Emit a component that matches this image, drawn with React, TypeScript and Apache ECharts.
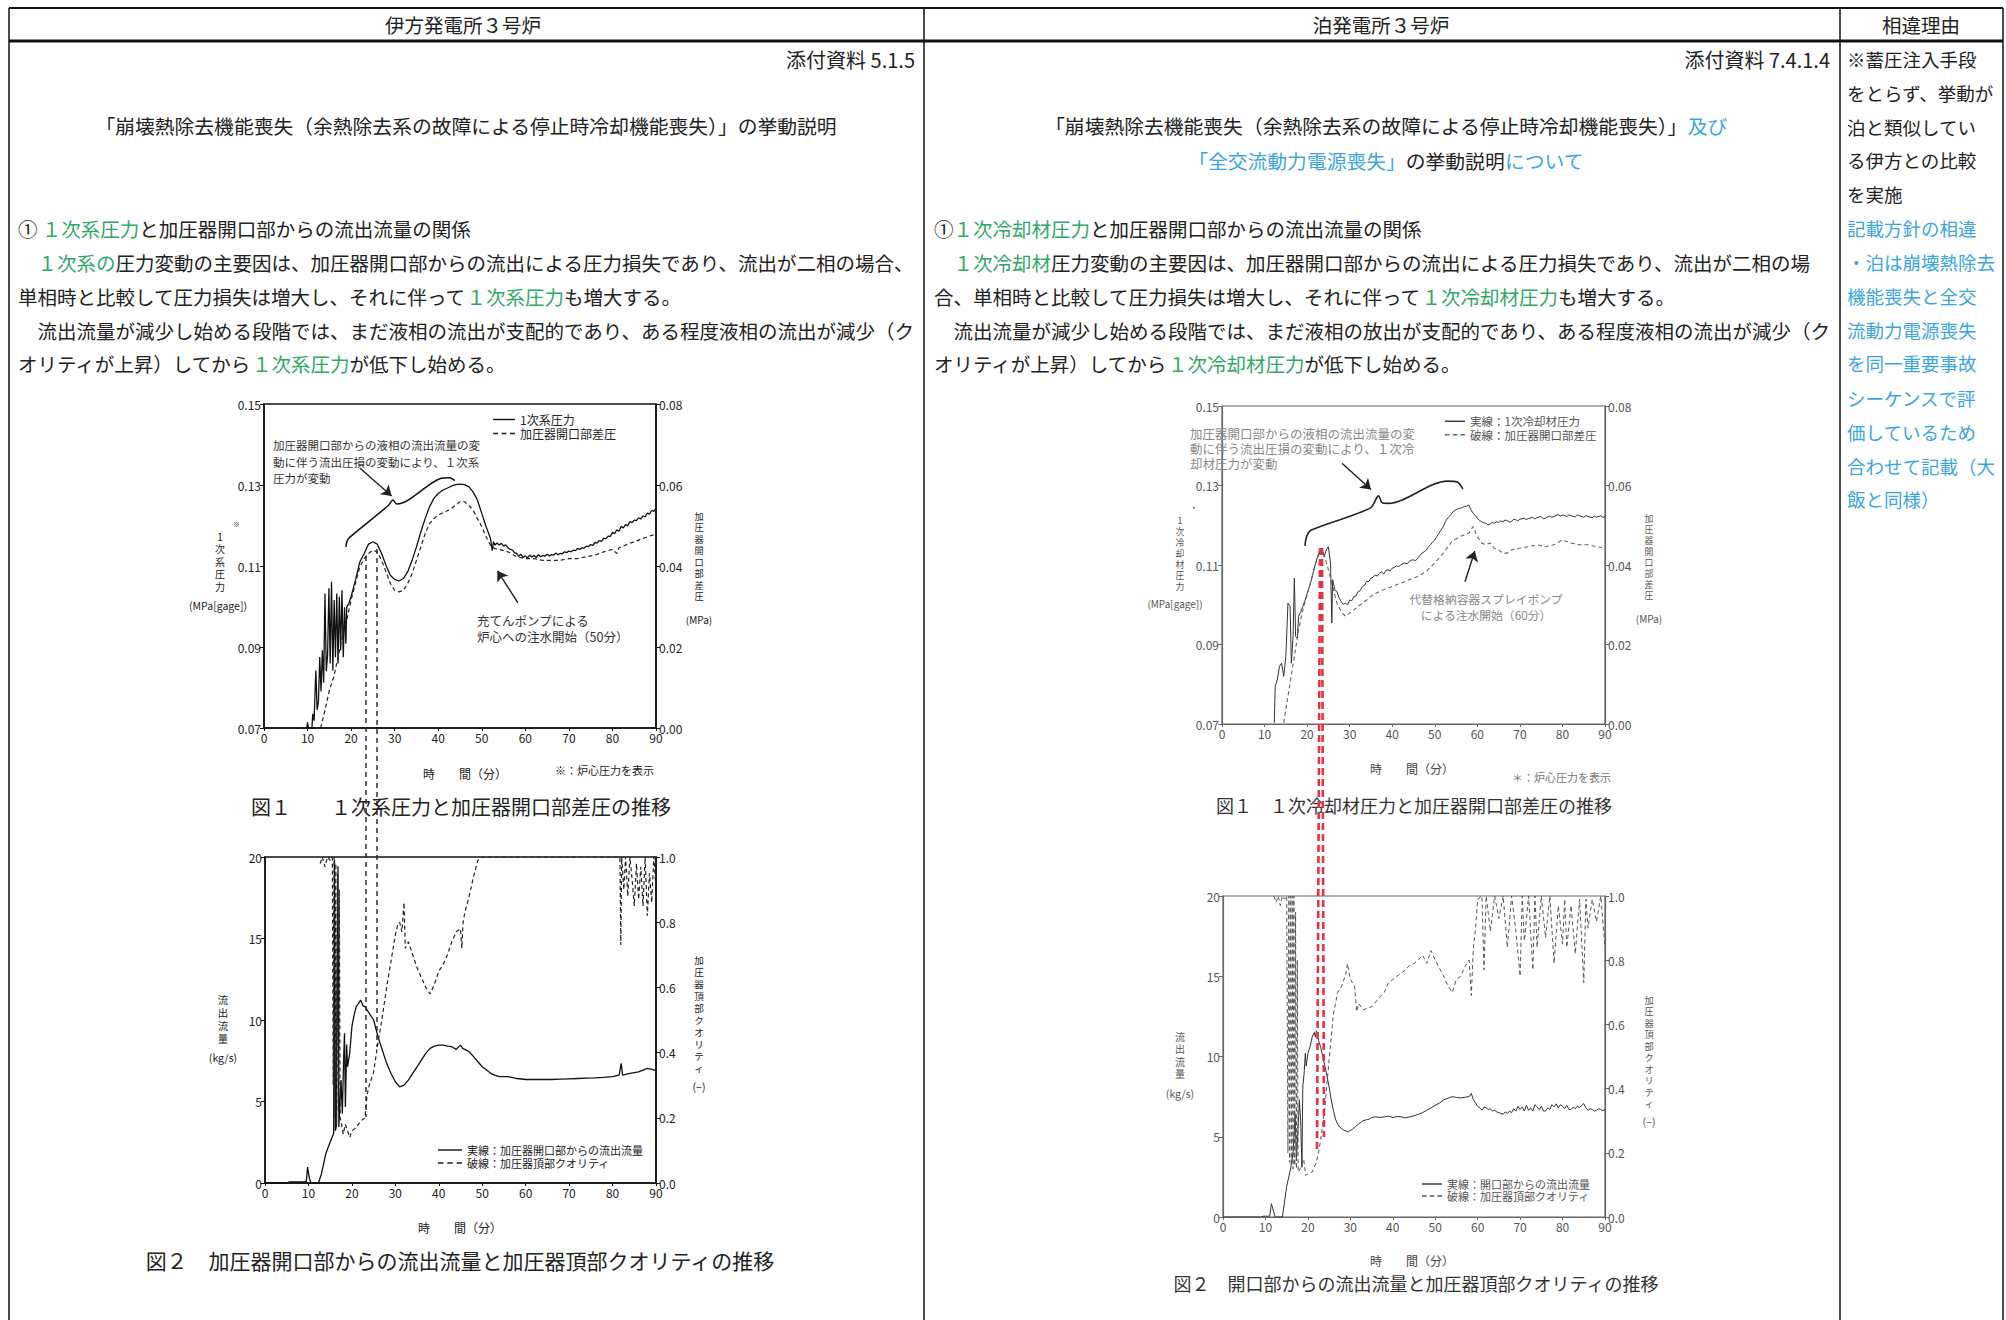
import React, { useEffect, useRef } from "react";
import * as echarts from "echarts";

const FONT = '"Noto Sans CJK JP", "Noto Sans", sans-serif';
const GREEN = "#2fa867";
const BLUE = "#3aa6de";
const INK = "#222";
const GREY = "#555";
const RED = "#e5333f";

// ---------- axis ticks ----------
const timeTicks = { min: 0, max: 90, interval: 10 };
const PRESSURE_BASE = 0.07; // bottom of the primary pressure axis (MPa[gage])
const pressureSpan = { max: 0.08, interval: 0.02 }; // 0.07 .. 0.15
const diffSpan = { max: 0.08, interval: 0.02 };
const flowSpan = { max: 20, interval: 5 };
const qualitySpan = { max: 1.0, interval: 0.2 };

// ---------- Ikata Fig.1 : primary pressure (MPa) ----------
const ikataPressure: number[][] = [
  [9.8,0.0700],[10.0,0.0714],[10.2,0.0700],[11.0,0.0700],[11.2,0.0735],[11.5,0.0718],[11.9,0.0842],[12.2,0.0745],[12.5,0.0765],[12.8,0.0875],[13.1,0.0790],[13.4,0.0892],[13.7,0.0812],[14.0,0.1032],[14.3,0.0840],[14.6,0.0880],[14.9,0.1045],[15.2,0.0859],[15.5,0.1061],[15.8,0.0842],[16.1,0.1016],[16.4,0.0875],[16.7,0.1032],[17.0,0.0859],[17.3,0.1024],[17.6,0.0892],[17.9,0.1040],[18.2,0.0875],[18.5,0.0998],[18.8,0.0908],[19.0,0.0999],[19.5,0.1008],[20,0.1024],[21,0.1065],[22,0.1110],[23,0.1131],[24,0.1154],[25,0.1160],[26,0.1154],[27,0.1131],[28,0.1102],[29,0.1077],[30,0.1067],[31,0.1063],[32,0.1069],[33,0.1086],[34,0.1114],[35,0.1147],[36,0.1184],[37,0.1217],[38,0.1246],[39,0.1267],[40,0.1279],[41,0.1287],[42,0.1292],[43,0.1297],[44,0.1301],[45,0.1302],[46,0.1301],[47,0.1296],[48,0.1283],[49,0.1263],[50,0.1230],[51,0.1197],[52,0.1168],[52.4,0.1138],[52.7,0.1160],[53,0.1152],[53.5,0.1157],[54,0.1152],[54.5,0.1156],[55,0.1149],[55.5,0.1152],[56,0.1145],[56.5,0.1141],[57,0.1140],[57.5,0.1133],[58,0.1131],[58.5,0.1124],[59,0.1129],[59.5,0.1121],[60,0.1125],[60.5,0.1120],[61,0.1127],[61.5,0.1122],[62,0.1126],[62.5,0.1121],[63,0.1128],[63.5,0.1123],[64,0.1126],[64.5,0.1124],[65,0.1129],[65.5,0.1125],[66,0.1128],[66.5,0.1127],[67,0.1132],[67.5,0.1128],[68,0.1131],[68.5,0.1130],[69,0.1135],[69.5,0.1133],[70,0.1137],[70.5,0.1135],[71,0.1139],[71.5,0.1138],[72,0.1143],[72.5,0.1141],[73,0.1145],[73.5,0.1144],[74,0.1149],[74.5,0.1148],[75,0.1153],[75.5,0.1151],[76,0.1158],[76.5,0.1157],[77,0.1163],[77.5,0.1161],[78,0.1169],[78.5,0.1167],[79,0.1174],[79.5,0.1173],[80,0.1183],[80.5,0.1180],[81,0.1189],[81.5,0.1186],[82,0.1198],[82.5,0.1194],[83,0.1202],[83.5,0.1199],[84,0.1210],[84.5,0.1207],[85,0.1213],[85.5,0.1212],[86,0.1219],[86.5,0.1216],[87,0.1224],[87.5,0.1221],[88,0.1231],[88.5,0.1228],[89,0.1237],[89.5,0.1235],[90,0.1243],
];
// pressurizer opening differential pressure (MPa, right axis)
const ikataDiffPressure: number[][] = [
  [13.0,0.0000],[14,0.0044],[15,0.0093],[16,0.0126],[17,0.0175],[18,0.0225],[19,0.0266],[20,0.0316],[21,0.0357],[22,0.0398],[23,0.0418],[24,0.0431],[25,0.0439],[26,0.0435],[27,0.0414],[28,0.0386],[29,0.0357],[30,0.0340],[31,0.0336],[32,0.0340],[33,0.0357],[34,0.0381],[35,0.0414],[36,0.0447],[37,0.0480],[38,0.0505],[39,0.0517],[40,0.0526],[41,0.0531],[42,0.0536],[43,0.0542],[44,0.0550],[45,0.0559],[46,0.0559],[47,0.0550],[48,0.0538],[49,0.0517],[50,0.0497],[51,0.0472],[52,0.0451],[53,0.0443],[54,0.0441],[56,0.0435],[58,0.0423],[60,0.0418],[62,0.0418],[64,0.0414],[66,0.0414],[68,0.0414],[70,0.0418],[72,0.0418],[74,0.0423],[76,0.0427],[78,0.0435],[80,0.0441],[81,0.0431],[81.5,0.0445],[82,0.0447],[84,0.0456],[86,0.0464],[88,0.0472],[90,0.0479],
];
const ikataBrace: number[][] = [[18.8,0.1147],[19.1,0.1163],[19.8,0.1172],[28.6,0.1250],[29.6,0.1263],[30.5,0.1253],[40.5,0.1316],[42.6,0.1318],[43.8,0.1311]];
const ikataArrows: number[][][] = [[[22.0,0.1342],[29.3,0.1273]],[[58.3,0.1009],[53.6,0.1088]]];

// ---------- Tomari Fig.1 ----------
const tomariPressure: number[][] = [
  [12.3,0.0703],[12.5,0.0795],[13.0,0.0811],[13.5,0.0845],[14.0,0.0853],[14.5,0.0820],[15.0,0.0870],[15.5,0.1004],[16.0,0.0996],[16.3,0.0853],[16.7,0.0920],[17.0,0.1067],[17.3,0.0920],[17.7,0.0916],[18,0.0971],[18.5,0.0982],[19,0.0996],[19.5,0.1010],[20,0.1029],[20.5,0.1044],[21,0.1063],[21.5,0.1084],[22,0.1105],[22.5,0.1122],[23,0.1138],[23.5,0.1142],[24,0.1121],[24.5,0.1138],[25,0.1146],[25.5,0.1105],[25.8,0.0954],[26,0.1063],[26.5,0.1038],[27,0.1033],[27.5,0.1018],[28,0.1008],[28.5,0.1001],[29,0.1004],[29.5,0.1000],[30,0.1012],[30.5,0.1010],[31,0.1021],[31.5,0.1022],[32,0.1033],[32.5,0.1036],[33,0.1046],[33.5,0.1049],[34,0.1059],[34.5,0.1058],[35,0.1067],[35.5,0.1069],[36,0.1075],[36.5,0.1072],[37,0.1079],[37.5,0.1083],[38,0.1077],[38.5,0.1086],[39,0.1088],[39.5,0.1085],[40,0.1092],[40.5,0.1094],[41,0.1098],[41.5,0.1096],[42,0.1100],[42.5,0.1104],[43,0.1105],[43.5,0.1103],[44,0.1109],[44.5,0.1112],[45,0.1113],[45.5,0.1111],[46,0.1117],[46.5,0.1124],[47,0.1130],[47.5,0.1133],[48,0.1138],[48.5,0.1146],[49,0.1151],[49.5,0.1158],[50,0.1163],[50.5,0.1172],[51,0.1180],[51.5,0.1188],[52,0.1197],[52.5,0.1209],[53,0.1218],[53.5,0.1223],[54,0.1230],[54.5,0.1236],[55,0.1239],[55.5,0.1242],[56,0.1243],[56.5,0.1245],[57,0.1247],[57.5,0.1248],[58,0.1251],[58.5,0.1239],[59,0.1230],[59.5,0.1225],[60,0.1218],[60.5,0.1212],[61,0.1209],[61.5,0.1206],[62,0.1205],[62.5,0.1201],[63,0.1203],[63.5,0.1207],[64,0.1205],[64.5,0.1209],[65,0.1207],[65.5,0.1211],[66,0.1209],[66.5,0.1213],[67,0.1212],[67.5,0.1208],[68,0.1209],[68.5,0.1215],[69,0.1214],[69.5,0.1211],[70,0.1215],[71,0.1218],[71.5,0.1214],[72,0.1217],[73,0.1220],[73.5,0.1216],[74,0.1219],[75,0.1222],[75.5,0.1216],[76,0.1218],[77,0.1223],[77.5,0.1220],[78,0.1222],[79,0.1227],[79.5,0.1223],[80,0.1226],[81,0.1222],[81.5,0.1226],[82,0.1224],[83,0.1221],[83.5,0.1226],[84,0.1224],[85,0.1220],[85.5,0.1224],[86,0.1222],[87,0.1219],[87.5,0.1223],[88,0.1220],[89,0.1224],[89.5,0.1220],[90,0.1222],
];
const tomariDiffPressure: number[][] = [
  [14.5,0.0003],[15,0.0036],[16,0.0103],[17,0.0170],[18,0.0237],[19,0.0287],[20,0.0325],[21,0.0363],[22,0.0405],[23,0.0434],[23.5,0.0438],[24,0.0426],[25,0.0388],[26,0.0346],[27,0.0304],[28,0.0283],[29,0.0271],[30,0.0279],[31,0.0287],[32,0.0296],[33,0.0304],[34,0.0312],[35,0.0321],[36,0.0328],[37,0.0333],[38,0.0338],[40,0.0346],[42,0.0354],[44,0.0363],[46,0.0371],[48,0.0384],[50,0.0405],[52,0.0430],[54,0.0459],[56,0.0472],[58,0.0480],[59,0.0497],[60,0.0472],[61,0.0455],[62,0.0451],[63,0.0455],[64,0.0442],[65,0.0438],[66,0.0430],[67,0.0430],[68,0.0438],[70,0.0442],[72,0.0446],[74,0.0451],[76,0.0446],[78,0.0451],[80,0.0463],[82,0.0455],[84,0.0451],[86,0.0451],[88,0.0446],[90,0.0442],
];
const tomariBrace: number[][] = [[19.5,0.1148],[19.9,0.1172],[21.0,0.1188],[34.8,0.1243],[36.8,0.1274],[37.6,0.1257],[39.0,0.1255],[53.0,0.1311],[55.3,0.1309],[56.6,0.1291]];
const tomariArrows: number[][][] = [[[28.2,0.1356],[35.0,0.1290]],[[57.1,0.1058],[59.4,0.1135]]];

// ---------- Ikata Fig.2 ----------
const ikataFlow: number[][] = [
  [0,0],[5,0],[5.5,0.06],[9.5,0.06],[9.8,0.98],[10.2,0.3],[10.6,0],[12.3,0],[13,0.57],[14,1.8],[15,2.52],[15.8,3.03],[16.0,19.84],[16.2,3.2],[16.4,3.44],[16.8,19.43],[17.0,3.44],[17.5,6.31],[17.8,4.26],[18.1,7.6],[18.3,9.18],[18.5,4.67],[18.8,8.5],[19,7.13],[19.5,7.95],[20,9.59],[20.5,10.3],[21,10.82],[21.5,11.0],[22,11.23],[22.5,10.9],[23,10.82],[24,10.41],[25,10.0],[26,8.98],[27,8.16],[28,7.34],[29,6.72],[30,6.21],[31,5.9],[32,6.0],[33,6.31],[34,6.72],[35,7.13],[36,7.54],[37,7.95],[38,8.26],[39,8.4],[40,8.46],[41,8.46],[42,8.4],[43,8.36],[44,8.2],[45,8.46],[45.5,8.26],[46,8.2],[47,8.05],[48,7.75],[49,7.44],[50,7.13],[51,6.93],[52,6.72],[53,6.6],[54,6.52],[56,6.52],[58,6.41],[60,6.35],[62,6.35],[64,6.35],[66,6.35],[68,6.37],[70,6.39],[72,6.41],[74,6.43],[76,6.45],[78,6.48],[80,6.52],[81.5,6.62],[82,7.34],[82.3,6.62],[84,6.72],[86,6.82],[88,7.03],[89,6.97],[90,6.89],
];
const ikataQuality: number[][] = [
  [12.7,0.98],[13.2,1.0],[13.8,0.97],[14.4,1.0],[15.0,0.99],[15.5,1.0],[15.7,0.3],[15.9,1.0],[16.1,0.2],[16.3,0.98],[16.5,0.18],[16.7,0.95],[16.9,0.22],[17.1,0.9],[17.3,0.2],[17.5,0.19],[18,0.15],[18.5,0.18],[19,0.16],[19.5,0.14],[20,0.16],[21,0.17],[22,0.19],[23,0.2],[23.5,0.27],[24,0.3],[25,0.34],[26,0.43],[27,0.51],[28,0.6],[29,0.68],[30,0.76],[30.5,0.79],[31,0.8],[31.5,0.77],[32,0.86],[32.3,0.72],[33,0.74],[34,0.7],[35,0.66],[36,0.63],[37,0.6],[38,0.58],[39,0.61],[40,0.65],[41,0.67],[42,0.7],[43,0.74],[44,0.77],[45,0.78],[45.3,0.72],[45.6,0.8],[46,0.83],[47,0.88],[48,0.94],[49,0.99],[50,1.0],[81.7,1.0],[81.9,0.73],[82.1,1.0],[82.6,0.9],[83,1.0],[83.5,0.88],[84,1.0],[84.5,0.93],[85,0.85],[85.5,0.98],[86,0.87],[86.5,0.97],[87,0.85],[87.5,1.0],[88,0.82],[88.5,0.95],[89,0.86],[89.5,1.0],[90,0.9],
];

// ---------- Tomari Fig.2 ----------
const tomariFlow: number[][] = [
  [0,0],[9,0],[9.5,0.05],[11,0.05],[11.4,0.83],[12.3,0],[14,0],[15,1.9],[16,3.1],[16.5,4.0],[17,6.4],[17.3,3.5],[17.6,5.0],[18,7.3],[18.3,6.0],[18.6,3.1],[18.8,8.1],[19.1,8.9],[19.4,10.2],[19.6,9.4],[20,10.2],[20.5,10.6],[21,11.2],[21.5,11.5],[21.8,11.2],[22,11.6],[22.5,11.0],[23,10.6],[23.5,10.0],[24,9.4],[24.5,8.8],[25,8.1],[25.5,7.3],[26,6.65],[26.5,6.1],[27,5.8],[27.5,5.6],[28,5.5],[28.5,5.4],[29,5.36],[29.5,5.3],[30,5.4],[30.5,5.45],[31,5.6],[31.5,5.7],[32,5.8],[32.5,5.9],[33,6.0],[34,6.07],[34.5,6.1],[35,6.2],[36,6.24],[37,6.2],[38,6.24],[39,6.28],[40,6.2],[41,6.26],[42,6.24],[43,6.18],[44,6.24],[45,6.3],[46,6.4],[47,6.5],[48,6.65],[49,6.8],[50,6.96],[51,7.1],[52,7.3],[53,7.4],[54,7.5],[55,7.45],[56,7.42],[57,7.46],[58,7.5],[58.5,7.7],[59,7.3],[59.5,7.1],[60,6.9],[60.5,6.8],[61,6.65],[61.5,6.85],[62,6.8],[62.5,6.7],[63,6.75],[63.5,6.6],[64,6.65],[64.5,6.55],[65,6.5],[65.5,6.45],[66,6.4],[66.5,6.55],[67,6.45],[67.5,6.6],[68,6.5],[68.5,6.75],[69,6.6],[69.5,6.9],[70,6.7],[70.5,6.85],[71,6.6],[71.5,6.95],[72,6.65],[72.5,6.8],[73,6.6],[73.5,7.0],[74,6.86],[74.5,6.7],[75,6.9],[75.5,6.6],[76,6.6],[76.5,6.8],[77,6.7],[77.5,7.0],[78,6.86],[78.5,7.05],[79,6.8],[79.5,7.0],[80,6.9],[80.5,6.75],[81,6.95],[81.5,6.7],[82,6.7],[82.5,6.85],[83,6.75],[83.5,6.9],[84,6.82],[84.5,6.95],[85,7.07],[85.5,6.8],[86,6.65],[86.5,6.75],[87,6.7],[87.5,6.6],[88,6.65],[88.5,6.75],[89,6.7],[89.5,6.62],[90,6.7],
];
const tomariQuality: number[][] = [
  [12,1.0],[12.5,0.98],[13,1.0],[13.5,0.97],[14,1.0],[14.5,0.99],[15,1.0],[15.3,0.2],[15.5,1.0],[15.7,0.17],[15.9,1.0],[16.1,0.16],[16.3,1.0],[16.5,0.15],[16.7,1.0],[16.9,0.16],[17.1,0.95],[17.3,0.15],[17.5,0.8],[17.7,0.14],[18,0.145],[19,0.18],[19.5,0.13],[20,0.135],[21,0.14],[22,0.17],[22.5,0.2],[23,0.24],[24,0.34],[25,0.49],[26,0.63],[27,0.7],[28,0.72],[29,0.76],[29.3,0.79],[30,0.74],[31,0.72],[31.5,0.64],[32,0.665],[33,0.645],[34,0.65],[35,0.655],[36,0.67],[37,0.686],[38,0.7],[39,0.73],[40,0.74],[41,0.75],[42,0.76],[43,0.77],[44,0.785],[45,0.79],[46,0.8],[47,0.816],[48,0.79],[49,0.83],[50,0.8],[51,0.775],[52,0.75],[53,0.72],[54,0.7],[55,0.74],[56,0.75],[57,0.78],[58,0.8],[58.5,0.69],[59,0.84],[59.5,0.9],[60,0.99],[61,1.0],[61.5,0.77],[62,1.0],[63,0.89],[64,1.0],[65,0.93],[66,1.0],[67,0.84],[68,1.0],[69,0.89],[70,0.75],[70.5,1.0],[71,0.86],[72,1.0],[73,0.77],[73.5,1.0],[74,0.84],[75,1.0],[76,0.87],[77,1.0],[78,0.79],[79,0.97],[80,0.85],[80.5,0.99],[81,0.84],[82,0.97],[83,0.82],[84,0.99],[85,0.73],[85.5,0.99],[86,0.9],[87,0.99],[88,0.92],[89,1.0],[90,0.84],
];

// ---------- texts ----------
const leftParagraph = [
  "① {g|１次系圧力}と加圧器開口部からの流出流量の関係",
  "　{g|１次系の}圧力変動の主要因は、加圧器開口部からの流出による圧力損失であり、流出が二相の場合、",
  "単相時と比較して圧力損失は増大し、それに伴って{g|１次系圧力}も増大する。",
  "　流出流量が減少し始める段階では、まだ液相の流出が支配的であり、ある程度液相の流出が減少（ク",
  "オリティが上昇）してから{g|１次系圧力}が低下し始める。",
];
const rightParagraph = [
  "①{g|１次冷却材圧力}と加圧器開口部からの流出流量の関係",
  "　{g|１次冷却材}圧力変動の主要因は、加圧器開口部からの流出による圧力損失であり、流出が二相の場",
  "合、単相時と比較して圧力損失は増大し、それに伴って{g|１次冷却材圧力}も増大する。",
  "　流出流量が減少し始める段階では、まだ液相の放出が支配的であり、ある程度液相の流出が減少（ク",
  "オリティが上昇）してから{g|１次冷却材圧力}が低下し始める。",
];
const reasonLines = [
  "※蓄圧注入手段", "をとらず、挙動が", "泊と類似してい", "る伊方との比較", "を実施",
  "{b|記載方針の相違}", "{b|・泊は崩壊熱除去}", "{b|機能喪失と全交}", "{b|流動力電源喪失}", "{b|を同一重要事故}",
  "{b|シーケンスで評}", "{b|価しているため}", "{b|合わせて記載（大}", "{b|飯と同様）}",
];
const paragraphY = [228, 262, 296, 330, 363];
const reasonY = [59, 93, 127, 160, 194, 228, 262, 296, 330, 363, 398, 432, 466, 499];

// legend icons: a solid stroke and a dashed stroke
const SOLID_ICON = "path://M0,0H22V1.4H0Z";
const DASH_ICON = "path://M0,0H5V1.4H0Z M8.5,0H13.5V1.4H8.5Z M17,0H22V1.4H17Z";

function txt(x: number, y: number, text: string, size: number, o: any = {}) {
  const fill = o.fill || INK;
  const lh = o.lh || size * 1.2;
  const style: any = {
    text,
    fill,
    fontSize: size,
    fontFamily: FONT,
    font: `${size}px ${FONT}`,
    align: o.align || "left",
    textAlign: o.align || "left",
    verticalAlign: o.va || "middle",
    textVerticalAlign: o.va || "middle",
    lineHeight: lh,
  };
  if (text.indexOf("{") >= 0) {
    const mk = (c: string) => ({ fill: c, fontSize: size, fontFamily: FONT, lineHeight: lh });
    style.rich = { g: mk(GREEN), b: mk(BLUE) };
  }
  return { type: "text", x, y, z: 60, silent: true, style };
}
// vertical (stacked) axis titles: one text per character, spaced by `step`
function vtxt(x: number, top: number, chars: string, size: number, step: number, fill = INK) {
  return chars.split("").map((c, i) => txt(x, top + step * i + step / 2, c, size, { align: "center", fill, lh: step }));
}
function ln(x1: number, y1: number, x2: number, y2: number, w: number, stroke = "#111", dash?: number[]) {
  return {
    type: "line",
    z: 70,
    silent: true,
    shape: { x1, y1, x2, y2 },
    style: { stroke, lineWidth: w, lineDash: dash },
  };
}

function buildOption() {
  const grids = [
    { left: 264, top: 404, width: 392, height: 324, show: true, borderColor: "#111", borderWidth: 1.5 },
    { left: 1222, top: 406, width: 383, height: 318, show: true, borderColor: "#666", borderWidth: 1.2 },
    { left: 265, top: 857, width: 391, height: 326, show: true, borderColor: "#111", borderWidth: 1.5 },
    { left: 1223, top: 896, width: 382, height: 321, show: true, borderColor: "#666", borderWidth: 1.2 },
  ];
  const colorOf = (g: number) => (g % 2 === 0 ? INK : GREY);
  const axisColor = (g: number) => (g % 2 === 0 ? "#111" : "#666");
  const xAxis = grids.map((_, g) => ({
    type: "value",
    gridIndex: g,
    ...timeTicks,
    axisLine: { show: true, lineStyle: { color: axisColor(g), width: g % 2 === 0 ? 1.5 : 1.2 } },
    axisTick: { show: true, length: 3, lineStyle: { color: axisColor(g) } },
    axisLabel: { fontSize: 12, fontFamily: FONT, color: colorOf(g), margin: 3 },
    splitLine: { show: false },
  }));
  const yAx = (g: number, position: string, span: any, fmt: (v: number) => string) => ({
    type: "value",
    gridIndex: g,
    position,
    min: 0,
    max: span.max,
    interval: span.interval,
    axisLine: { show: true, lineStyle: { color: axisColor(g), width: g % 2 === 0 ? 1.5 : 1.2 } },
    axisTick: { show: true, length: 4, lineStyle: { color: axisColor(g) } },
    axisLabel: { formatter: fmt, fontSize: 12, fontFamily: FONT, color: colorOf(g), margin: 3 },
    splitLine: { show: false },
  });
  const pFmt = (v: number) => (v + PRESSURE_BASE).toFixed(2);
  const f2 = (v: number) => v.toFixed(2);
  const f1 = (v: number) => v.toFixed(1);
  const f0 = (v: number) => String(v);
  const yAxis = [
    yAx(0, "left", pressureSpan, pFmt),
    yAx(0, "right", diffSpan, f2),
    yAx(1, "left", pressureSpan, pFmt),
    yAx(1, "right", diffSpan, f2),
    yAx(2, "left", flowSpan, f0),
    yAx(2, "right", qualitySpan, f1),
    yAx(3, "left", flowSpan, f0),
    yAx(3, "right", qualitySpan, f1),
  ];
  const shift = (arr: number[][]) => arr.map(([t, p]) => [t, p - PRESSURE_BASE]);
  const line = (name: string, xi: number, yi: number, data: number[][], color: string, width: number, dash?: number[], extra: any = {}) => ({
    type: "line",
    name,
    xAxisIndex: xi,
    yAxisIndex: yi,
    data,
    symbol: "none",
    showSymbol: false,
    clip: true,
    silent: true,
    lineStyle: { color, width, type: dash || "solid" },
    itemStyle: { color },
    z: 3,
    ...extra,
  });
  const arrows = (list: number[][][], color: string) => ({
    silent: true,
    symbol: ["none", "arrow"],
    symbolSize: 10,
    label: { show: false },
    lineStyle: { color, width: 1.4, type: "solid" },
    emphasis: { disabled: true },
    data: list.map(([a, b]) => [{ coord: [a[0], a[1] - PRESSURE_BASE] }, { coord: [b[0], b[1] - PRESSURE_BASE] }]),
  });
  const series = [
    line("1次系圧力", 0, 0, shift(ikataPressure), "#111", 1.3, undefined, { markLine: arrows(ikataArrows, "#222") }),
    line("加圧器開口部差圧", 0, 1, ikataDiffPressure, "#222", 1.2, [4, 3]),
    line("ikataBrace", 0, 0, shift(ikataBrace), "#111", 1.5, undefined, { smooth: 0.3 }),
    line("実線：1次冷却材圧力", 1, 2, shift(tomariPressure), "#333", 1.0, undefined, { markLine: arrows(tomariArrows, "#222") }),
    line("破線：加圧器開口部差圧", 1, 3, tomariDiffPressure, "#666", 1.1, [4, 3]),
    line("tomariBrace", 1, 2, shift(tomariBrace), "#222", 1.6, undefined, { smooth: 0.3 }),
    line("実線：加圧器開口部からの流出流量", 2, 4, ikataFlow, "#111", 1.3),
    line("破線：加圧器頂部クオリティ", 2, 5, ikataQuality, "#222", 1.2, [4, 3]),
    line("実線：開口部からの流出流量", 3, 6, tomariFlow, "#333", 1.0),
    line("破線：加圧器頂部クオリティ ", 3, 7, tomariQuality, "#555", 1.0, [4, 3]),
  ];
  const item = (name: string, dashed: boolean, color: string) => ({
    name,
    icon: dashed ? DASH_ICON : SOLID_ICON,
    itemStyle: { color, opacity: 1 },
  });
  const lg = (data: any[], left: number, top: number, iw: number, gap: number, fs: number, color: string) => ({
    data,
    orient: "vertical",
    left,
    top,
    itemWidth: iw,
    itemHeight: 1.4,
    itemGap: gap,
    padding: 0,
    selectedMode: false,
    symbolKeepAspect: false,
    textStyle: { fontSize: fs, fontFamily: FONT, color, lineHeight: fs + 1 },
  });
  const legend = [
    lg([item("1次系圧力", false, "#111"), item("加圧器開口部差圧", true, "#222")], 493, 413, 22, 1, 12, INK),
    lg([item("実線：1次冷却材圧力", false, "#333"), item("破線：加圧器開口部差圧", true, "#666")], 1445, 415, 20, 1, 11.5, GREY),
    lg([item("実線：加圧器開口部からの流出流量", false, "#111"), item("破線：加圧器頂部クオリティ", true, "#222")], 438, 1144, 24, 1, 11, INK),
    lg([item("実線：開口部からの流出流量", false, "#333"), item("破線：加圧器頂部クオリティ ", true, "#555")], 1422, 1178, 20, 0, 11, GREY),
  ];

  const g: any[] = [];
  // table frame
  g.push(ln(9, 8, 2003, 8, 2));
  g.push(ln(9, 41, 2003, 41, 3));
  g.push(ln(9, 8, 9, 1320, 1.5));
  g.push(ln(924, 8, 924, 1320, 1.5));
  g.push(ln(1840, 8, 1840, 1320, 1.5));
  g.push(ln(2003, 8, 2003, 1320, 1.5));
  // header
  g.push(txt(463, 24, "伊方発電所３号炉", 19.5, { align: "center" }));
  g.push(txt(1381, 24, "泊発電所３号炉", 19.5, { align: "center" }));
  g.push(txt(1921, 24, "相違理由", 19.5, { align: "center" }));
  g.push(txt(915, 59, "添付資料 5.1.5", 20, { align: "right" }));
  g.push(txt(1830, 59, "添付資料 7.4.1.4", 20, { align: "right" }));
  // titles
  g.push(txt(466, 125, "「崩壊熱除去機能喪失（余熱除去系の故障による停止時冷却機能喪失）」の挙動説明", 19.8, { align: "center" }));
  g.push(txt(1386, 125, "「崩壊熱除去機能喪失（余熱除去系の故障による停止時冷却機能喪失）」{b|及び}", 19.8, { align: "center" }));
  g.push(txt(1386, 160, "{b|「全交流動力電源喪失」}の挙動説明{b|について}", 19.8, { align: "center" }));
  leftParagraph.forEach((s, i) => g.push(txt(18, paragraphY[i], s, 19.5)));
  rightParagraph.forEach((s, i) => g.push(txt(934, paragraphY[i], s, 19.5)));
  reasonLines.forEach((s, i) => g.push(txt(1847, reasonY[i], s, 18.5)));

  // ---- Ikata fig 1 texts ----
  g.push(txt(273, 437, "加圧器開口部からの液相の流出流量の変\n動に伴う流出圧損の変動により、１次系\n圧力が変動", 11.5, { va: "top", lh: 16.5, fill: "#333" }));
  g.push(txt(477, 620, "充てんポンプによる", 12.5, { fill: "#333" }));
  g.push(txt(477, 636, "炉心への注水開始（50分）", 12.5, { fill: "#333" }));
  g.push(...vtxt(220, 530, "1次系圧力", 10, 12.5));
  g.push(txt(233, 524, "※", 7, { lh: 7 }));
  g.push(txt(218, 605, "(MPa[gage])", 10.5, { align: "center" }));
  g.push(...vtxt(699, 510, "加圧器開口部差圧", 9.2, 11.5));
  g.push(txt(699, 619, "(MPa)", 10, { align: "center" }));
  g.push(txt(465, 773, "時　　間（分）", 12, { align: "center" }));
  g.push(txt(555, 770, "※：炉心圧力を表示", 11));
  g.push(txt(461, 806, "図１　　１次系圧力と加圧器開口部差圧の推移", 20, { align: "center" }));

  // ---- Tomari fig 1 texts ----
  g.push(txt(1190, 426, "加圧器開口部からの液相の流出流量の変\n動に伴う流出圧損の変動により、１次冷\n却材圧力が変動", 12.5, { va: "top", lh: 15, fill: "#888" }));
  g.push(txt(1486, 598, "代替格納容器スプレイポンプ", 11.8, { align: "center", fill: "#888" }));
  g.push(txt(1486, 614, "による注水開始（60分）", 11.8, { align: "center", fill: "#888" }));
  g.push(...vtxt(1180, 515, "1次冷却材圧力", 8.8, 11, GREY));
  g.push(txt(1192, 509, "*", 8, { fill: GREY, lh: 8 }));
  g.push(txt(1175, 603, "(MPa[gage])", 10, { align: "center", fill: GREY }));
  g.push(...vtxt(1649, 513, "加圧器開口部差圧", 8.8, 11, GREY));
  g.push(txt(1649, 618, "(MPa)", 10, { align: "center", fill: GREY }));
  g.push(txt(1412, 768, "時　　間（分）", 12, { align: "center", fill: "#444" }));
  g.push(txt(1512, 777, "＊：炉心圧力を表示", 11, { fill: "#777" }));
  g.push(txt(1414, 805, "図１　１次冷却材圧力と加圧器開口部差圧の推移", 18, { align: "center", fill: "#333" }));

  // ---- Ikata fig 2 texts ----
  g.push(...vtxt(223, 993, "流出流量", 10.4, 13));
  g.push(txt(223, 1057, "(kg/s)", 10.5, { align: "center" }));
  g.push(...vtxt(699, 954, "加圧器頂部クオリティ", 9.6, 12));
  g.push(txt(699, 1086, "(−)", 10.5, { align: "center" }));
  g.push(txt(460, 1227, "時　　間（分）", 12, { align: "center" }));
  g.push(txt(460, 1260, "図２　加圧器開口部からの流出流量と加圧器頂部クオリティの推移", 21, { align: "center" }));

  // ---- Tomari fig 2 texts ----
  g.push(...vtxt(1180, 1030, "流出流量", 10, 12.5, GREY));
  g.push(txt(1180, 1093, "(kg/s)", 10.5, { align: "center", fill: GREY }));
  g.push(...vtxt(1649, 994, "加圧器頂部クオリティ", 9.2, 11.5, GREY));
  g.push(txt(1649, 1121, "(−)", 10.5, { align: "center", fill: GREY }));
  g.push(txt(1412, 1260, "時　　間（分）", 12, { align: "center", fill: "#444" }));
  g.push(txt(1416, 1283, "図２　開口部からの流出流量と加圧器頂部クオリティの推移", 18, { align: "center", fill: "#333" }));

  // connector dashed lines between the figures
  g.push(ln(366, 556, 366, 1117, 1.4, "#222", [5, 4]));
  g.push(ln(377, 549, 377, 1047, 1.4, "#222", [5, 4]));
  g.push(ln(1320, 548, 1317, 1153, 2.6, RED, [7, 4]));
  g.push(ln(1322, 548, 1324, 1137, 2.6, RED, [7, 4]));

  return {
    animation: false,
    backgroundColor: "#fff",
    grid: grids,
    xAxis,
    yAxis,
    legend,
    series,
    graphic: { elements: g },
  };
}

export default function App() {
  const ref = useRef<HTMLDivElement>(null);
  useEffect(() => {
    document.body.style.margin = "0";
    const chart = echarts.init(ref.current!, undefined, { renderer: "svg", width: 2006, height: 1320 });
    chart.setOption(buildOption() as any);
    return () => chart.dispose();
  }, []);
  return <div ref={ref} style={{ width: 2006, height: 1320, background: "#fff" }} />;
}
